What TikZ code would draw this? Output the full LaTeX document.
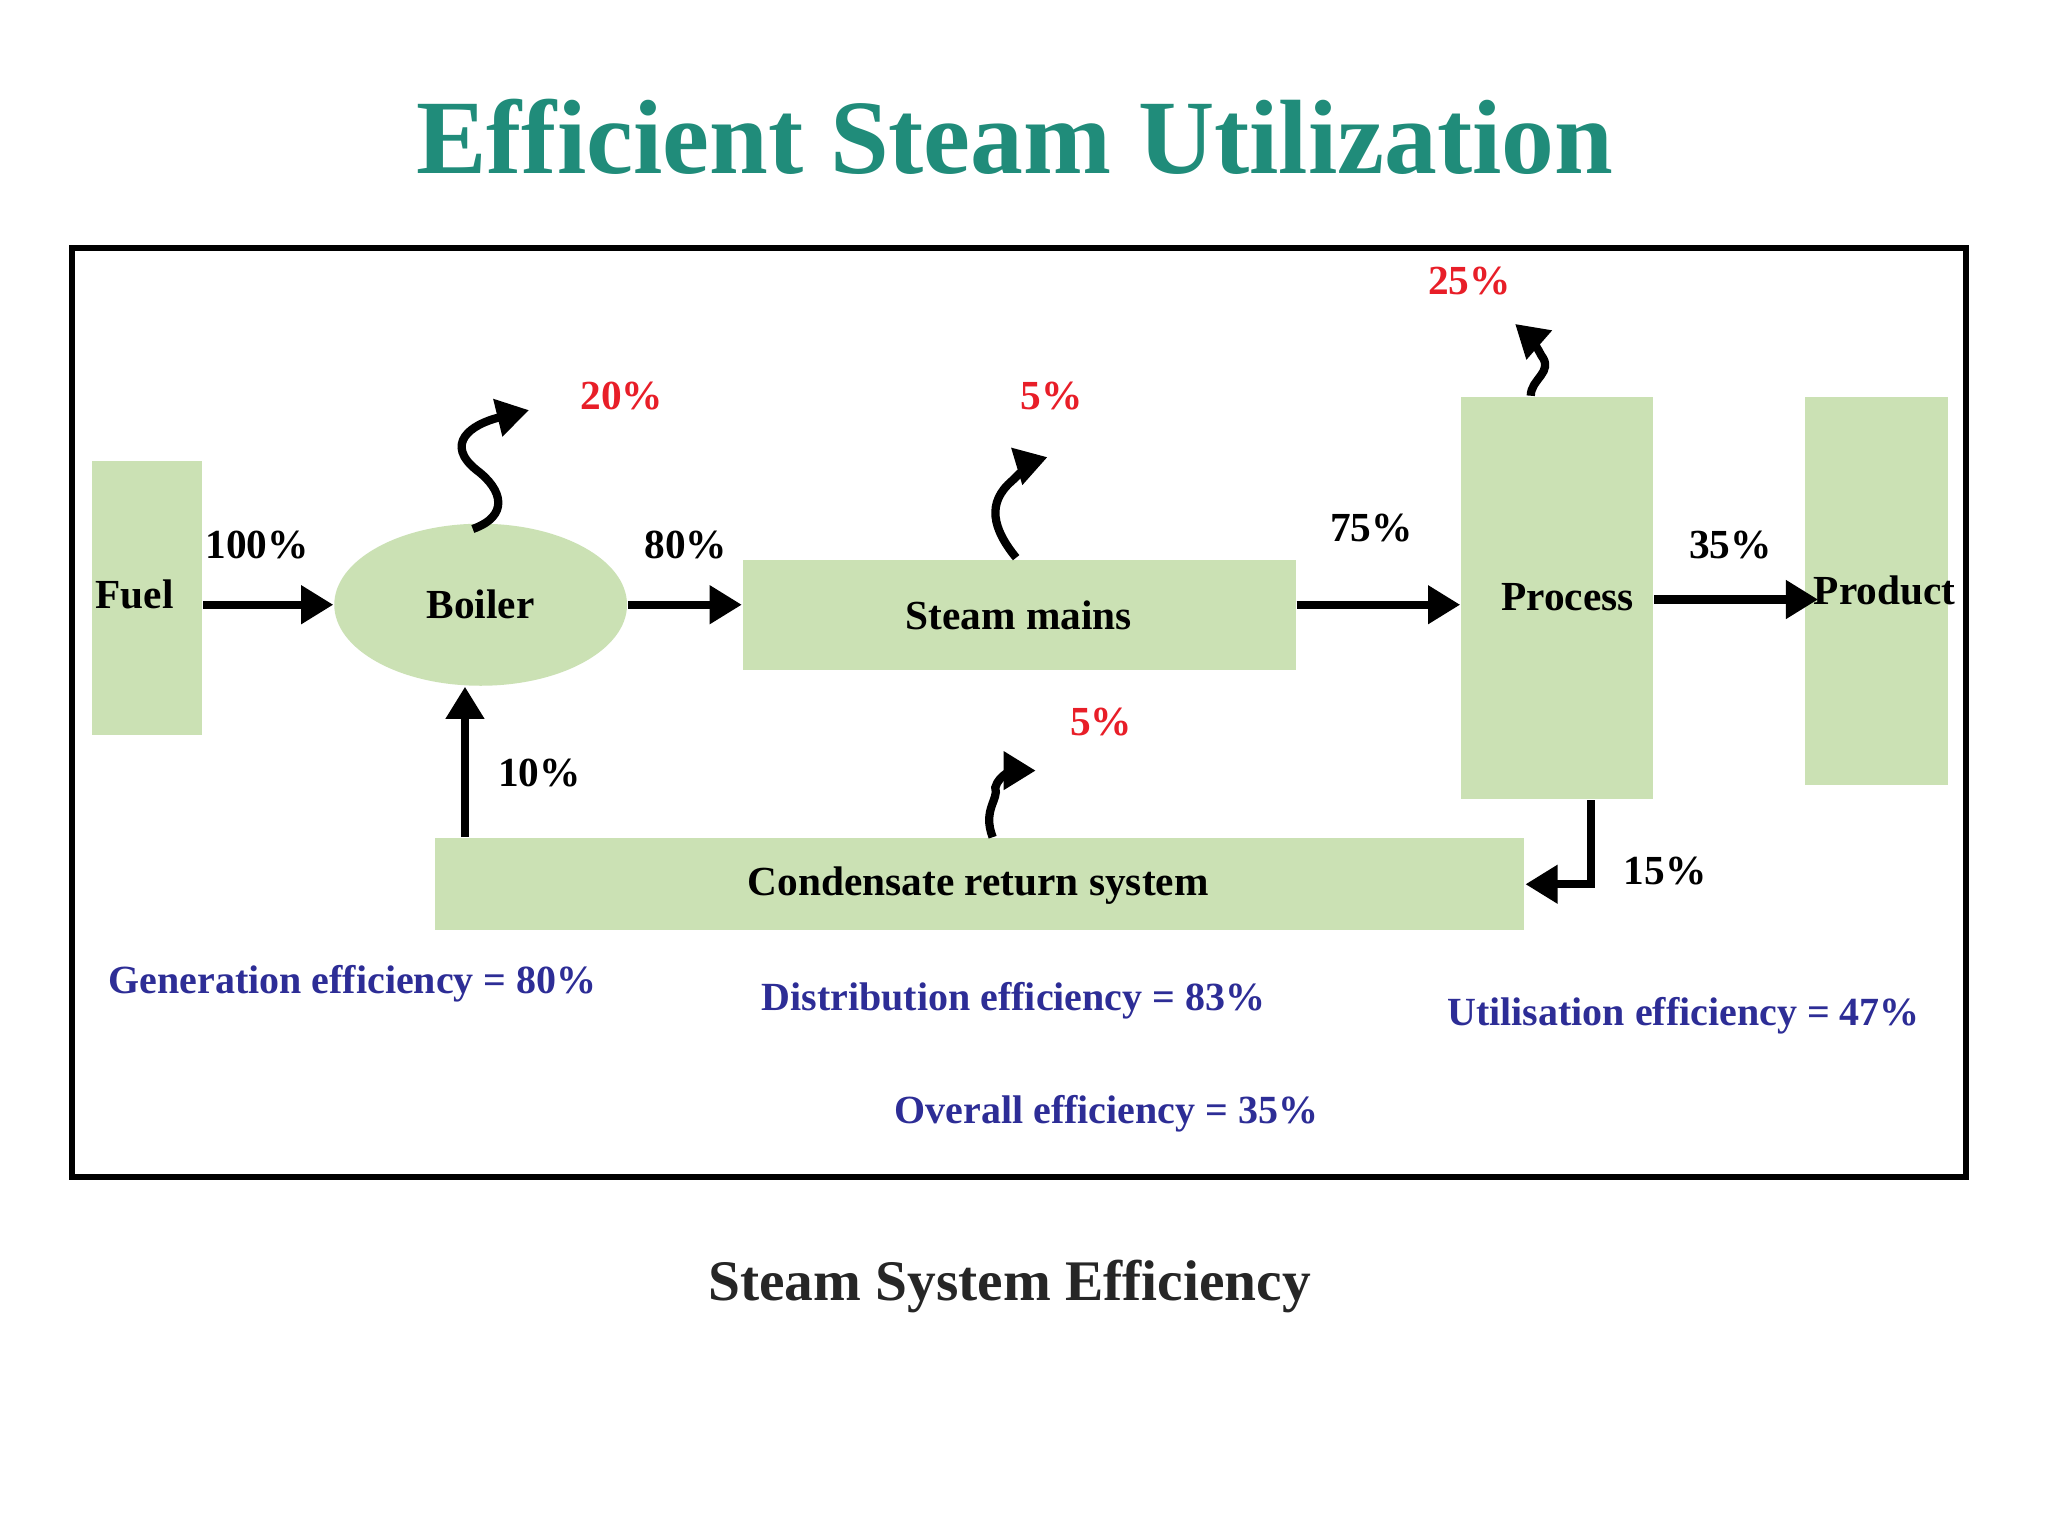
\documentclass[tikz,border=0pt]{standalone}
\usepackage{fontspec}
\setmainfont{Liberation Serif}
\usetikzlibrary{arrows.meta,shapes.geometric}
\definecolor{boxg}{RGB}{203,225,180}
\definecolor{titleg}{RGB}{32,140,122}
\definecolor{effblue}{RGB}{45,45,150}
\definecolor{lossred}{RGB}{232,30,40}
\tikzset{
  box/.style={fill=boxg,draw=none,inner sep=0pt},
  lbl/.style={font=\bfseries\fontsize{9}{11}\selectfont},
  flow/.style={line width=1.8pt,-{Triangle[length=7pt,width=8pt]}},
  wav/.style={line width=1.8pt,-{Triangle[length=7pt,width=8pt]}},
  pct/.style={font=\bfseries\fontsize{9}{11}\selectfont},
  loss/.style={font=\bfseries\fontsize{9}{11}\selectfont,text=lossred},
  eff/.style={font=\bfseries\fontsize{8.7}{11}\selectfont,text=effblue}
}
\begin{document}
\begin{tikzpicture}[x=0.01cm,y=-0.01cm]
\useasboundingbox (0,0) rectangle (1568,1176);
\fill[white] (0,0) rectangle (1568,1176);
\node[font=\bfseries\fontsize{23}{26}\selectfont,text=titleg] (title) at (777,105) {Efficient Steam Utilization};
\draw[line width=1.3pt] (55,190) rectangle (1505,901);
% boxes
\node[box,minimum width=0.84cm,minimum height=2.10cm,anchor=north west] (fuel) at (70,352) {};
\node[lbl] (fueltxt) at (103,455) {Fuel};
\node[box,lbl,ellipse,minimum width=2.24cm,minimum height=1.24cm] (boiler) at (368,463) {Boiler};
\node[box,minimum width=4.23cm,minimum height=0.84cm,anchor=north west] (mains) at (568,428) {};
\node[lbl] (mainstxt) at (780,471) {Steam mains};
\node[box,minimum width=1.47cm,minimum height=3.08cm,anchor=north west] (process) at (1118,303) {};
\node[lbl] (proctxt) at (1200,457) {Process};
\node[box,minimum width=1.10cm,minimum height=2.97cm,anchor=north west] (product) at (1381,303) {};
\node[lbl] (prodtxt) at (1443,452) {Product};
\node[box,minimum width=8.34cm,minimum height=0.70cm,anchor=north west] (cond) at (332,641) {};
\node[lbl] (condtxt) at (749,678) {Condensate return system};
% main flows
\draw[flow] (fuel.east|-0,463) -- (boiler.west);
\node[pct] at (197,417) {100\%};
\draw[flow] (boiler.east) -- (mains.west|-boiler.east);
\node[pct] at (525,417) {80\%};
\draw[flow] (mains.east|-0,463) -- (process.west|-0,463);
\node[pct] at (1050,404) {75\%};
\draw[flow] (process.east|-0,459) -- (1392,459);
\node[pct] at (1325,417) {35\%};
\draw[flow] (process.south-|1218,0) -- (1218,677) -- (cond.east|-0,677);
\node[pct] at (1275,667) {15\%};
\draw[flow] (cond.north-|356,0) -- (boiler.south-|356,0);
\node[pct] at (413,592) {10\%};
% losses
\draw[wav] (362,405) .. controls (390,395) and (385,375) .. (365,360) .. controls (340,340) and (360,325) .. (405,314);
\node[loss] at (476,303) {20\%};
\draw[wav] (778,427) .. controls (760,405) and (755,385) .. (775,368) .. controls (785,358) and (792,353) .. (802,350);
\node[loss] at (805,303) {5\%};
\draw[wav] (760,641) .. controls (752,620) and (765,612) .. (762,603) .. controls (765,592) and (778,590) .. (793,590);
\node[loss] at (843,553) {5\%};
\draw[wav] (1172,303) .. controls (1172,290) and (1190,285) .. (1180,272) .. controls (1175,262) and (1168,255) .. (1160,248);
\node[loss] at (1125,215) {25\%};
% efficiencies
\node[eff] at (270,753) {Generation efficiency = 80\%};
\node[eff] at (776,766) {Distribution efficiency = 83\%};
\node[eff] at (1289,778) {Utilisation efficiency = 47\%};
\node[eff] at (847,853) {Overall efficiency = 35\%};
\node[font=\bfseries\fontsize{12.5}{15}\selectfont,text=black!85] (cap) at (773,985) {Steam System Efficiency};
\end{tikzpicture}
\end{document}
